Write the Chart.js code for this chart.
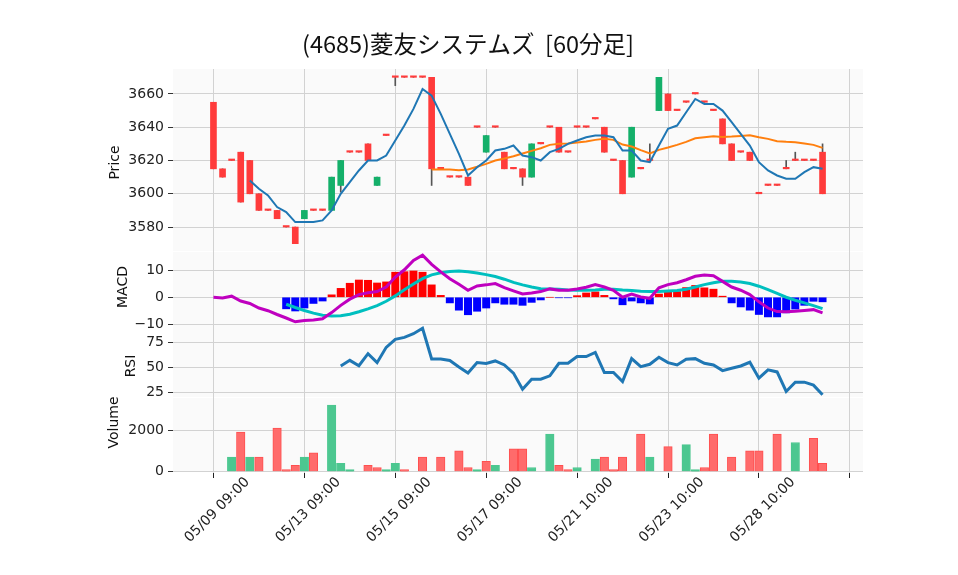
<!DOCTYPE html>
<html>
<head>
<meta charset="utf-8">
<script src="https://cdn.jsdelivr.net/npm/chart.js@4.4.0/dist/chart.umd.min.js"></script>
<style>
  html, body { margin: 0; padding: 0; background: #fff; }
</style>
</head>
<body>
<canvas id="stockChart" width="958" height="575"></canvas>
<script>
const FONT = "'DejaVu Sans', sans-serif";
const JP_FONT = "'Noto Sans CJK JP', 'Noto Sans', sans-serif";

const titleText = "(4685)菱友システムズ  [60分足]";
const xTickIdx = [0, 10, 20, 30, 40, 50, 60, 70];
const xTickLabels = ["05/09 09:00", "05/13 09:00", "05/15 09:00", "05/17 09:00", "05/21 10:00", "05/23 10:00", "05/28 10:00", ""];

// 60-minute bars, index 0..67
const opens = [3655,3615,3620,3625,3620,3600,3590,3590,3580,3580, 3585,3590,3590,3590,3605,3625,3625,3630,3605,3635,
  3670,3670,3670,3670,3670,3615,3610,3610,3610,3640, 3625,3640,3625,3615,3615,3610,3630,3640,3640,3625,
  3640,3640,3645,3640,3620,3620,3610,3615,3620,3650, 3660,3650,3655,3660,3655,3650,3645,3630,3625,3625,
  3600,3605,3605,3615,3620,3620,3620,3625];
const highs = [3655,3615,3620,3625,3620,3600,3590,3590,3580,3580, 3590,3590,3590,3610,3620,3625,3625,3630,3610,3635,
  3670,3670,3670,3670,3670,3615,3610,3610,3610,3640, 3635,3640,3625,3615,3615,3630,3630,3640,3640,3625,
  3640,3640,3645,3640,3620,3620,3640,3615,3630,3670, 3660,3650,3655,3660,3655,3650,3645,3630,3625,3625,
  3600,3605,3605,3620,3625,3620,3620,3630];
const lows = [3615,3610,3620,3595,3600,3590,3590,3585,3580,3570, 3585,3590,3590,3590,3601,3625,3625,3620,3605,3635,
  3665,3670,3670,3670,3605,3615,3610,3610,3605,3640, 3625,3640,3615,3615,3605,3610,3630,3640,3625,3625,
  3640,3640,3645,3625,3620,3600,3610,3615,3620,3650, 3650,3650,3655,3660,3655,3650,3630,3620,3625,3620,
  3600,3605,3605,3615,3620,3620,3620,3600];
const closes = [3615,3610,3620,3595,3600,3590,3590,3585,3580,3570, 3590,3590,3590,3610,3620,3625,3625,3620,3610,3635,
  3670,3670,3670,3670,3615,3615,3610,3610,3605,3640, 3635,3640,3615,3615,3610,3630,3630,3640,3625,3625,
  3640,3640,3645,3625,3620,3600,3640,3615,3620,3670, 3650,3650,3655,3660,3655,3650,3630,3620,3625,3620,
  3600,3605,3605,3615,3620,3620,3620,3600];

const ma5 = [null,null,null,null,3608,3603,3599,3592,3589,3583, 3583,3583,3584,3590,3600,3607,3614,3620,3620,3623,
  3632,3641,3651,3663,3659,3648,3636,3624,3611,3616, 3620,3626,3627,3629,3623,3622,3620,3625,3627,3630,
  3632,3634,3635,3635,3634,3626,3626,3620,3619,3629, 3639,3641,3649,3657,3654,3654,3650,3643,3636,3629,
  3619,3614,3611,3609,3609,3613,3616,3615];
const ma25 = [null,null,null,null,null,null,null,null,null,null, null,null,null,null,null,null,null,null,null,null,
  null,null,null,null,3614.6,3614.6,3614.6,3614.2,3614.6,3616.2, 3618.0,3620.0,3621.2,3622.6,3624.2,3625.8,3627.4,3629.4,3630.0,3630.2,
  3630.8,3631.4,3632.4,3633.0,3632.4,3629.6,3628.4,3626.2,3624.2,3626.4, 3627.8,3629.4,3631.2,3633.4,3634.0,3634.6,3634.2,3634.4,3634.8,3635.2,
  3634.0,3633.0,3631.6,3631.2,3631.0,3630.2,3629.4,3627.6];

const macd = [0,-0.25,0.4,-1.4,-2.3,-4.0,-5.0,-6.4,-7.7,-9.1, -8.6,-8.4,-8.0,-5.7,-3.0,-0.7,1.0,1.7,2.1,3.8,
  7.5,10.2,13.7,15.6,12.2,9.4,6.9,4.8,2.6,4.2, 4.6,5.1,3.6,2.4,1.2,1.6,2.1,3.1,2.6,2.6,
  3.1,3.7,4.7,3.8,2.6,0.0,1.2,0.1,-0.4,3.5, 4.7,5.4,6.5,7.8,8.3,8.0,5.9,3.8,2.6,1.0,
  -1.7,-4.0,-5.3,-5.4,-5.2,-4.9,-4.6,-5.8];
const signal = [null,null,null,null,null,null,null,null,-2.6,-3.8, -4.9,-5.9,-6.7,-7.0,-6.9,-6.3,-5.4,-4.3,-3.1,-1.5,
  0.5,2.8,4.9,6.9,8.3,9.1,9.6,9.75,9.5,9.0, 8.4,7.7,6.7,5.5,4.6,3.8,3.2,3.1,3.0,2.7,
  2.6,2.6,2.7,3.0,3.0,2.7,2.5,2.2,2.1,2.1, 2.3,2.5,3.0,3.8,4.7,5.4,5.9,5.9,5.7,5.1,
  4.1,2.8,1.4,0.0,-1.1,-2.1,-3.1,-4.2];
const hist = [null,null,null,null,null,null,null,null,-4.3,-5.1, -4.0,-2.3,-1.4,0.9,3.3,5.2,6.4,6.3,5.3,5.7,
  9.3,9.5,9.75,9.3,4.6,0.7,-2.1,-4.8,-6.5,-5.2, -4.0,-2.1,-2.6,-2.6,-3.0,-1.9,-1.0,0.0,-0.2,-0.2,
  0.6,1.6,2.0,0.7,-0.6,-2.8,-1.4,-2.1,-2.5,1.2, 2.1,2.1,3.6,4.4,3.5,3.0,0.4,-2.1,-3.6,-4.8,
  -6.4,-7.3,-7.3,-5.8,-4.4,-3.0,-1.5,-1.7];

const rsi = [null,null,null,null,null,null,null,null,null,null, null,null,null,null,51.6,57.2,51.9,63.8,54.9,70.1,
  78,80,83.6,89.1,58.6,58.6,57,50.7,44.7,55, 54,56.6,52.6,44.5,28.6,38.5,38.5,41.8,54.3,54.3,
  60.9,60.9,65.1,45.1,45.1,36.2,58.9,51,53.3,60.2, 54.9,52.6,58.2,58.9,54.3,52.6,47,49.3,51.6,55.3,
  39.5,47.7,45.7,26.3,35.5,35.5,32.6,23];

const volumes = [0,0,700,1900,700,700,0,2100,100,300, 700,900,0,3200,400,100,0,300,200,100,
  400,100,0,700,0,700,0,1000,200,100, 500,300,0,1100,1100,200,0,1800,300,100,
  200,0,600,700,100,700,0,1800,700,0, 1200,0,1300,100,200,1800,0,700,0,1000,
  1000,0,1800,0,1400,0,1600,400];

const priceTicks = [3580, 3600, 3620, 3640, 3660];
const macdTicks = [-10, 0, 10];
const rsiTicks = [25, 50, 75];
const volTicks = [0, 2000];

const UP = "#14b06a", DOWN = "#ff3b3b";
const VOL_UP = "#4cc790", VOL_DOWN = "#ff6b6b";
const GRID = "#d2d2d2";

function pts(arr) {
  const out = [];
  arr.forEach((v, i) => { if (v !== null) out.push({ x: i, y: v }); });
  return out;
}

function yAxis(ticks, min, max, weight, stackWeight) {
  return {
    type: "linear", position: "left", stack: "panels", stackWeight: stackWeight, weight: weight,
    min: min, max: max, offset: false,
    afterBuildTicks: s => { s.ticks = ticks.map(v => ({ value: v })); },
    afterFit: s => { s.width = 173; },
    grid: { color: GRID, lineWidth: 1, drawTicks: true, tickLength: 5, tickColor: "#333" },
    border: { display: false },
    ticks: {
      color: "#222", padding: 4, font: { size: 14, family: FONT },
      callback: v => v < 0 ? "\u2212" + Math.abs(v) : String(v)
    }
  };
}

const axisTitles = [
  { id: "yPrice", text: "Price", x: 115, dy: 2 },
  { id: "yMacd", text: "MACD", x: 123, dy: -1.5 },
  { id: "yRsi", text: "RSI", x: 131, dy: 4.5 },
  { id: "yVol", text: "Volume", x: 114, dy: -13 }
];

const panelPlugin = {
  id: "panels",
  beforeDraw(chart) {
    const { ctx, chartArea } = chart;
    ctx.save();
    ctx.fillStyle = "#fff";
    ctx.fillRect(0, 0, chart.width, chart.height);
    ctx.fillStyle = "#fafafa";
    axisTitles.forEach(t => {
      const s = chart.scales[t.id];
      ctx.fillRect(chartArea.left, s.top, chartArea.right - chartArea.left, s.bottom - s.top - 1);
    });
    ctx.restore();
  },
  afterDraw(chart) {
    const ctx = chart.ctx;
    ctx.save();
    ctx.fillStyle = "#111";
    ctx.textAlign = "center";
    ctx.textBaseline = "middle";
    ctx.font = "23.5px " + JP_FONT;
    ctx.fillText(titleText, 468, 44);
    ctx.font = "14px " + FONT;
    axisTitles.forEach(t => {
      const s = chart.scales[t.id];
      ctx.save();
      ctx.translate(t.x, (s.top + s.bottom) / 2 + t.dy);
      ctx.rotate(-Math.PI / 2);
      ctx.fillText(t.text, 0, 0);
      ctx.restore();
    });
    ctx.restore();
  }
};

Chart.defaults.font.family = FONT;

new Chart(document.getElementById("stockChart").getContext("2d"), {
  type: "line",
  data: {
    datasets: [
      { type: "line", label: "MA5", yAxisID: "yPrice", data: pts(ma5), borderColor: "#1f77b4", borderWidth: 2, pointRadius: 0, order: 1 },
      { type: "line", label: "MA25", yAxisID: "yPrice", data: pts(ma25), borderColor: "#ff7f0e", borderWidth: 2, pointRadius: 0, order: 2 },
      { type: "bar", label: "body", yAxisID: "yPrice", grouped: false, barThickness: 6, minBarLength: 1.5,
        data: closes.map((c, i) => ({ x: i, y: [opens[i], c] })),
        backgroundColor: closes.map((c, i) => c > opens[i] ? UP : DOWN), borderWidth: 0, order: 4 },
      { type: "bar", label: "wick", yAxisID: "yPrice", grouped: false, barThickness: 1,
        data: highs.map((h, i) => ({ x: i, y: [lows[i], h] })),
        backgroundColor: "#555", borderWidth: 0, order: 5 },
      { type: "line", label: "MACD", yAxisID: "yMacd", data: pts(macd), borderColor: "#bf00bf", borderWidth: 3, pointRadius: 0, order: 1 },
      { type: "line", label: "Signal", yAxisID: "yMacd", data: pts(signal), borderColor: "#00bfbf", borderWidth: 3, pointRadius: 0, order: 2 },
      { type: "bar", label: "Hist", yAxisID: "yMacd", grouped: false, barThickness: 7.3,
        data: pts(hist), backgroundColor: pts(hist).map(p => p.y >= 0 ? "#ff0000" : "#0000ff"), borderWidth: 0, order: 4 },
      { type: "line", label: "RSI", yAxisID: "yRsi", data: pts(rsi), borderColor: "#1f77b4", borderWidth: 3, pointRadius: 0, order: 1 },
      { type: "bar", label: "Volume", yAxisID: "yVol", grouped: false, barThickness: 8.5,
        data: volumes.map((v, i) => ({ x: i, y: v })),
        backgroundColor: volumes.map((v, i) => i > 0 && closes[i] > closes[i - 1] ? VOL_UP : VOL_DOWN),
        borderColor: volumes.map((v, i) => i > 0 && closes[i] > closes[i - 1] ? VOL_UP : "#ff4f4f"),
        borderWidth: 1, order: 4 }
    ]
  },
  options: {
    responsive: false,
    animation: false,
    events: [],
    layout: { padding: { top: 69, right: 95, bottom: 0, left: 0 } },
    plugins: { legend: { display: false }, tooltip: { enabled: false }, title: { display: false } },
    scales: {
      x: {
        type: "linear", position: "bottom", min: -4.45, max: 71.45, offset: false,
        afterBuildTicks: s => { s.ticks = xTickIdx.map(v => ({ value: v })); },
        afterFit: s => { s.height = 102; },
        grid: { color: GRID, offset: false, drawTicks: true, tickLength: 5, tickColor: "#222" },
        border: { display: false },
        ticks: {
          autoSkip: false, minRotation: 45, maxRotation: 45, labelOffset: 34, padding: -4,
          color: "#222", font: { size: 14, family: FONT },
          callback: v => xTickLabels[xTickIdx.indexOf(v)]
        }
      },
      yPrice: yAxis(priceTicks, 3565, 3675, 4, 183),
      yMacd: yAxis(macdTicks, -10.3, 16.8, 3, 73),
      yRsi: yAxis(rsiTicks, 19.8, 92.3, 2, 73),
      yVol: yAxis(volTicks, -65, 3540, 1, 75)
    }
  },
  plugins: [panelPlugin]
});
</script>
</body>
</html>
